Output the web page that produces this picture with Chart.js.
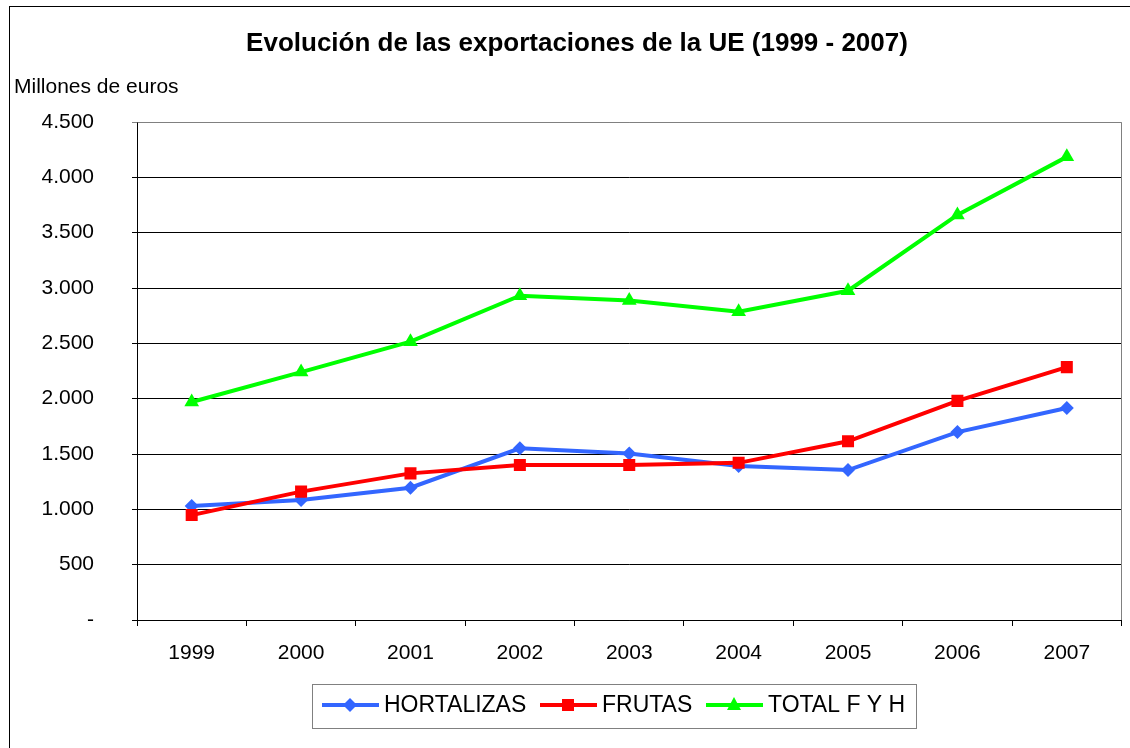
<!DOCTYPE html>
<html>
<head>
<meta charset="utf-8">
<title>Evolución de las exportaciones de la UE</title>
<script src="https://cdn.jsdelivr.net/npm/chart.js@4.4.1/dist/chart.umd.min.js"></script>
<style>
  html, body { margin: 0; padding: 0; background: #fff; }
  #chart { display: block; }
</style>
</head>
<body>
<canvas id="chart" width="1130" height="748"></canvas>
<script>
// Datos (millones de euros)
const years = ['1999', '2000', '2001', '2002', '2003', '2004', '2005', '2006', '2007'];
const hortalizas = [1030, 1085, 1195, 1552, 1505, 1392, 1355, 1698, 1915];
const frutas = [948, 1160, 1325, 1400, 1400, 1420, 1615, 1980, 2285];
const totalFyH = [1970, 2240, 2515, 2930, 2888, 2785, 2975, 3660, 4185];
const yTicks = [0, 500, 1000, 1500, 2000, 2500, 3000, 3500, 4000, 4500];

const FONT = '"Liberation Sans", Arial, sans-serif';

function formatThousands(v) {
    if (v === 0) return '-';
    return String(v).replace(/\B(?=(\d{3})+(?!\d))/g, '.');
}

// marco exterior, título y rótulo del eje
const frame = {
    id: 'frame',
    beforeDraw(chart) {
        const ctx = chart.ctx;
        ctx.save();
        ctx.fillStyle = '#fff';
        ctx.fillRect(0, 0, chart.width, chart.height);
        ctx.strokeStyle = '#000';
        ctx.lineWidth = 1;
        ctx.strokeRect(9.5, 6.5, chart.width + 20, chart.height + 20);

        ctx.fillStyle = '#000';
        ctx.textBaseline = 'alphabetic';
        ctx.font = 'bold 26px ' + FONT;
        ctx.textAlign = 'center';
        ctx.fillText('Evolución de las exportaciones de la UE (1999 - 2007)', 577, 51);

        ctx.font = '21px ' + FONT;
        ctx.textAlign = 'left';
        ctx.fillText('Millones de euros', 14, 93);
        ctx.restore();
    },
    afterDatasetsDraw(chart) {
        // borde gris del área de trazado (arriba y derecha)
        const a = chart.chartArea;
        const ctx = chart.ctx;
        ctx.save();
        ctx.strokeStyle = '#808080';
        ctx.lineWidth = 1;
        ctx.beginPath();
        ctx.moveTo(Math.round(a.left) + 0.5, Math.round(a.top) + 0.5);
        ctx.lineTo(Math.round(a.right) - 0.5, Math.round(a.top) + 0.5);
        ctx.lineTo(Math.round(a.right) - 0.5, Math.round(a.bottom));
        ctx.stroke();
        ctx.restore();
    }
};

function drawMarker(ctx, style, x, y, color) {
    ctx.fillStyle = color;
    ctx.beginPath();
    if (style === 'rectRot') {
        ctx.moveTo(x, y - 7);
        ctx.lineTo(x + 7, y);
        ctx.lineTo(x, y + 7);
        ctx.lineTo(x - 7, y);
    } else if (style === 'rect') {
        ctx.rect(x - 6, y - 6, 12, 12);
    } else {
        ctx.moveTo(x, y - 8);
        ctx.lineTo(x + 7, y + 5);
        ctx.lineTo(x - 7, y + 5);
    }
    ctx.closePath();
    ctx.fill();
}

// leyenda estilo Excel: línea con marcador
const excelLegend = {
    id: 'excelLegend',
    afterDraw(chart) {
        const ctx = chart.ctx;
        ctx.save();
        ctx.strokeStyle = '#808080';
        ctx.lineWidth = 1;
        ctx.strokeRect(312.5, 684.5, 604, 44);

        const items = [
            { x: 322, textX: 384 },
            { x: 540, textX: 602 },
            { x: 706, textX: 768 }
        ];
        const yMid = 705;
        chart.data.datasets.forEach((ds, i) => {
            const it = items[i];
            ctx.strokeStyle = ds.borderColor;
            ctx.lineWidth = 4;
            ctx.beginPath();
            ctx.moveTo(it.x, yMid);
            ctx.lineTo(it.x + 57, yMid);
            ctx.stroke();
            drawMarker(ctx, ds.pointStyle, it.x + 28, yMid, ds.borderColor);
            ctx.fillStyle = '#000';
            ctx.font = '23px ' + FONT;
            ctx.textAlign = 'left';
            ctx.textBaseline = 'alphabetic';
            ctx.fillText(ds.label, it.textX, 712);
        });
        ctx.restore();
    }
};

const ctx = document.getElementById('chart').getContext('2d');

new Chart(ctx, {
    type: 'line',
    data: {
        labels: years,
        datasets: [
            {
                label: 'HORTALIZAS',
                data: hortalizas,
                borderColor: '#3366FF',
                backgroundColor: '#3366FF',
                pointStyle: 'rectRot',
                pointRadius: 7,
                order: 3
            },
            {
                label: 'FRUTAS',
                data: frutas,
                borderColor: '#FF0000',
                backgroundColor: '#FF0000',
                pointStyle: 'rect',
                pointRadius: 8.5,
                order: 2
            },
            {
                label: 'TOTAL F Y H',
                data: totalFyH,
                borderColor: '#00FF00',
                backgroundColor: '#00FF00',
                pointStyle: 'triangle',
                pointRadius: 8.5,
                order: 1
            }
        ]
    },
    options: {
        responsive: false,
        animation: false,
        devicePixelRatio: 1,
        datasets: {
            line: {
                borderWidth: 4,
                tension: 0,
                pointBorderWidth: 0,
                fill: false
            }
        },
        layout: {
            padding: { left: 0, top: 122, right: 8, bottom: 0 }
        },
        plugins: {
            legend: { display: false },
            title: { display: false },
            tooltip: { enabled: false }
        },
        scales: {
            x: {
                offset: true,
                afterFit(scale) { scale.height = 128; },
                grid: {
                    offset: true,
                    drawOnChartArea: false,
                    drawTicks: true,
                    tickLength: 6,
                    color: '#000'
                },
                border: { display: true, color: '#000', width: 1 },
                ticks: {
                    color: '#000',
                    font: { family: FONT, size: 21 },
                    padding: 15,
                    maxRotation: 0
                }
            },
            y: {
                min: 0,
                max: 4500,
                afterFit(scale) { scale.width = 137; },
                afterBuildTicks(scale) {
                    scale.ticks = yTicks.map(v => ({ value: v }));
                },
                grid: {
                    color: c => (c.tick && c.tick.value === 4500 ? '#808080' : '#000'),
                    lineWidth: 1,
                    drawTicks: true,
                    tickLength: 5
                },
                border: { display: true, color: '#000', width: 1 },
                ticks: {
                    color: '#000',
                    font: { family: FONT, size: 21 },
                    padding: 38,
                    callback: v => formatThousands(v)
                }
            }
        }
    },
    plugins: [frame, excelLegend]
});
</script>
</body>
</html>
